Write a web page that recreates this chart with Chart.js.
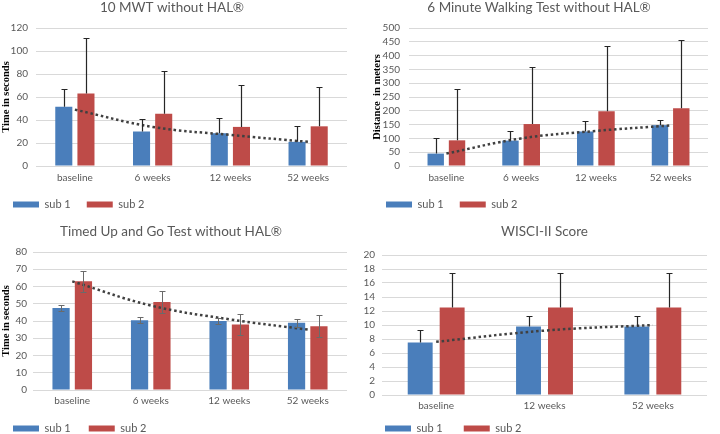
<!DOCTYPE html>
<html>
<head>
<meta charset="utf-8">
<script src="https://cdn.jsdelivr.net/npm/chart.js@4.4.0/dist/chart.umd.min.js"></script>
<style>
    html, body { margin: 0; padding: 0; background: #fff; }
    body { width: 720px; height: 434px; position: relative; overflow: hidden; }
    .panel { position: absolute; }
</style>
</head>
<body>
<div class="panel" id="p1"><canvas id="c1"></canvas></div>
<div class="panel" id="p2"><canvas id="c2"></canvas></div>
<div class="panel" id="p3"><canvas id="c3"></canvas></div>
<div class="panel" id="p4"><canvas id="c4"></canvas></div>
<script>
// --- данные ---
const weeks4 = ['baseline', '6 weeks', '12 weeks', '52 weeks'];
const weeks3 = ['baseline', '12 weeks', '52 weeks'];
const seriesNames = ['sub 1', 'sub 2'];

// 10 MWT
const mwtSub1 = [51.5, 30, 28.5, 21];
const mwtSub2 = [63, 45.5, 34, 34.5];
const mwtErr1 = [15.5, 11, 13.5, 13.5];
const mwtErr2 = [48, 37.5, 36.5, 34.5];
const mwtTrend = [49, 34, 27, 21];

// 6 minute walking test
const smwtSub1 = [45, 92, 125, 148];
const smwtSub2 = [93, 152, 198, 209];
const smwtErr1 = [56, 34, 37, 20];
const smwtErr2 = [185, 206, 236, 248];
const smwtTrend = [45, 100, 127, 147];

// TUG
const tugSub1 = [47.5, 40.5, 40, 39];
const tugSub2 = [63, 51, 38, 37];
const tugErr1 = [1.8, 1.6, 2, 2.2];
const tugErr2 = [6, 6.5, 6, 6.5];
const tugTrend = [63, 49, 41, 35];

// WISCI-II
const wisciSub1 = [7.5, 9.8, 9.8];
const wisciSub2 = [12.5, 12.5, 12.5];
const wisciErr1 = [1.8, 1.5, 1.5];
const wisciErr2 = [4.9, 4.9, 4.9];
const wisciTrend = [7.6, 9.2, 10];

const BLUE = '#4a7ebb';
const RED = '#be4b48';
const GRID = '#d9d9d9';
const TXT = '#595959';
const FONT = 'Lato, "Open Sans", sans-serif';

// усы погрешностей
const errorBars = {
    id: 'errorBars',
    afterDatasetsDraw(chart) {
        const o = chart.options.plugins.errorBars;
        const y = chart.scales.y;
        const ctx = chart.ctx;
        ctx.save();
        ctx.strokeStyle = o.color;
        ctx.lineWidth = o.width;
        chart.data.datasets.forEach((ds, di) => {
            if (!ds.err) return;
            const meta = chart.getDatasetMeta(di);
            meta.data.forEach((bar, i) => {
                const v = ds.data[i];
                const e = ds.err[i];
                const top = Math.round(y.getPixelForValue(v + e)) + 0.5;
                const bot = o.both ? Math.round(y.getPixelForValue(v - e)) + 0.5 : bar.y;
                const x = Math.round(bar.x) + 0.5;
                ctx.beginPath();
                ctx.moveTo(x, bot);
                ctx.lineTo(x, top);
                ctx.moveTo(x - o.cap, top);
                ctx.lineTo(x + o.cap, top);
                if (o.both) {
                    ctx.moveTo(x - o.cap, bot);
                    ctx.lineTo(x + o.cap, bot);
                }
                ctx.stroke();
            });
        });
        ctx.restore();
    }
};

function makeChart(cfg) {
    const wrap = document.getElementById(cfg.wrap);
    wrap.style.left = cfg.x + 'px';
    wrap.style.top = cfg.y + 'px';
    const canvas = document.getElementById(cfg.canvas);
    canvas.width = cfg.w;
    canvas.height = cfg.h;
    canvas.style.width = cfg.w + 'px';
    canvas.style.height = cfg.h + 'px';

    return new Chart(canvas, {
        data: {
            labels: cfg.labels,
            datasets: [
                {
                    type: 'line', label: 'trend', data: cfg.trend, order: 0,
                    borderColor: '#404040', borderWidth: 2.5, borderDash: [2.5, 2.8],
                    pointRadius: 0, tension: 0.4, fill: false
                },
                {
                    type: 'bar', label: seriesNames[0], data: cfg.s1, err: cfg.e1, order: 1,
                    backgroundColor: BLUE, categoryPercentage: cfg.catPct, barPercentage: cfg.barPct
                },
                {
                    type: 'bar', label: seriesNames[1], data: cfg.s2, err: cfg.e2, order: 1,
                    backgroundColor: RED, categoryPercentage: cfg.catPct, barPercentage: cfg.barPct
                }
            ]
        },
        options: {
            responsive: false,
            animation: false,
            layout: { padding: { left: 0, right: cfg.padR, top: 0, bottom: 0 } },
            plugins: {
                title: {
                    display: true, text: cfg.title, color: TXT,
                    font: { family: FONT, size: 13.5, weight: 'normal', lineHeight: 18 / 13.5 },
                    padding: { top: 0, bottom: cfg.titleGap },
                    fullSize: cfg.titleFull
                },
                legend: {
                    position: 'bottom', align: 'start',
                    // пустой заголовок с отрицательным отступом поджимает легенду к оси
                    title: { display: true, text: '', font: { size: 1, lineHeight: 1 }, padding: { top: cfg.legShift - 1, bottom: 0 } },
                    labels: {
                        boxWidth: 26, boxHeight: 6, padding: cfg.legPad, color: TXT,
                        font: { family: FONT, size: 11 },
                        filter: item => item.text !== 'trend'
                    }
                },
                tooltip: { enabled: false },
                errorBars: { color: cfg.errColor, width: cfg.errWidth, cap: 3, both: cfg.both }
            },
            scales: {
                x: {
                    grid: { display: false, drawTicks: false },
                    border: { display: false },
                    ticks: { color: TXT, padding: cfg.xPad, font: { family: FONT, size: 10, lineHeight: 0.8 } }
                },
                y: {
                    min: 0, max: cfg.max,
                    grid: { color: GRID, drawTicks: false },
                    border: { display: false },
                    ticks: { stepSize: cfg.step, autoSkip: false, color: TXT, padding: cfg.yPad, font: { family: FONT, size: 10 } },
                    title: {
                        display: !!cfg.yTitle, text: cfg.yTitle, color: '#000',
                        font: { family: '"Liberation Serif", serif', size: 10.5, weight: 'bold', lineHeight: 10.8 / 10.5 },
                        padding: { top: cfg.yTitlePad, bottom: 0 }
                    },
                    afterFit(scale) { scale.width = cfg.yW; }
                }
            }
        },
        plugins: [errorBars]
    });
}

makeChart({
    wrap: 'p1', canvas: 'c1', x: -3, y: -1, w: 351, h: 221, padR: 1,
    title: '10 MWT without HAL®', titleGap: 11, titleFull: true,
    labels: weeks4, s1: mwtSub1, s2: mwtSub2, e1: mwtErr1, e2: mwtErr2, trend: mwtTrend,
    max: 120, step: 20, yW: 39, yPad: 8, xPad: 8, legPad: 16, legShift: -7,
    yTitle: 'Time in seconds', yTitlePad: 4,
    catPct: 0.57, barPct: 0.77, errColor: '#262626', errWidth: 1.2, both: false
});

makeChart({
    wrap: 'p2', canvas: 'c2', x: 370, y: -1, w: 346, h: 221, padR: 8,
    title: '6 Minute Walking Test without HAL®', titleGap: 11, titleFull: true,
    labels: weeks4, s1: smwtSub1, s2: smwtSub2, e1: smwtErr1, e2: smwtErr2, trend: smwtTrend,
    max: 500, step: 50, yW: 39, yPad: 9, xPad: 8, legPad: 16, legShift: -7,
    yTitle: 'Distance  in meters', yTitlePad: 1.6,
    catPct: 0.57, barPct: 0.77, errColor: '#262626', errWidth: 1.2, both: false
});

makeChart({
    wrap: 'p3', canvas: 'c3', x: -5, y: 223, w: 352, h: 221, padR: 0,
    title: 'Timed Up and Go Test without HAL®', titleGap: 11, titleFull: true,
    labels: weeks4, s1: tugSub1, s2: tugSub2, e1: tugErr1, e2: tugErr2, trend: tugTrend,
    max: 80, step: 10, yW: 38, yPad: 6, xPad: 7, legPad: 18, legShift: -7,
    yTitle: 'Time in seconds', yTitlePad: 5.6,
    catPct: 0.57, barPct: 0.77, errColor: '#6a6a6a', errWidth: 1, both: true
});

makeChart({
    wrap: 'p4', canvas: 'c4', x: 364, y: 223, w: 350, h: 221, padR: 7,
    title: 'WISCI-II Score', titleGap: 14, titleFull: false,
    labels: weeks3, s1: wisciSub1, s2: wisciSub2, e1: wisciErr1, e2: wisciErr2, trend: wisciTrend,
    max: 20, step: 2, yW: 18, yPad: 7, xPad: 7, legPad: 21, legShift: -15,
    yTitle: '', yTitlePad: 0,
    catPct: 0.59, barPct: 0.78, errColor: '#262626', errWidth: 1.2, both: false
});
</script>
</body>
</html>
